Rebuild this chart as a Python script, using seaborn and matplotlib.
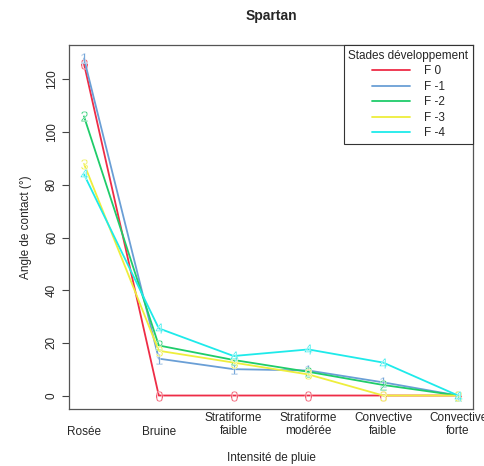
import pandas as pd
import seaborn as sns
import matplotlib
matplotlib.use("Agg")
import matplotlib.pyplot as plt
from matplotlib.transforms import blended_transform_factory

# Intensité de pluie (x = 1..6)
categories = ["Rosée", "Bruine", "Stratiforme\nfaible", "Stratiforme\nmodérée",
              "Convective\nfaible", "Convective\nforte"]
stades = ["F 0", "F -1", "F -2", "F -3", "F -4"]
f0 = [126, 0, 0, 0, 0, 0]
f1 = [128, 14, 10, 9.5, 5, 0]
f2 = [106, 19, 13.5, 9, 4, 0]
f3 = [88, 17, 12.5, 8, 0, 0]
f4 = [84, 25.5, 15, 17.5, 12.5, 0]
couleurs = ["#EE2C46", "#6A9FD6", "#1FCC6A", "#EEEE3C", "#1EEAEA"]


def build_df():
    rows = []
    for nom, vals in zip(stades, [f0, f1, f2, f3, f4]):
        for i, v in enumerate(vals):
            rows.append({"x": i + 1, "angle": v, "stade": nom})
    return pd.DataFrame(rows)


def main():
    sns.set_style("white")
    plt.rcParams["font.family"] = ["Liberation Sans", "DejaVu Sans"]
    plt.rcParams["font.size"] = 8.5
    plt.rcParams["mathtext.fontset"] = "custom"
    plt.rcParams["mathtext.rm"] = "Liberation Sans"

    df = build_df()
    fig = plt.figure(figsize=(4.85, 4.66), dpi=100)
    ax = fig.add_axes([69 / 485, 57 / 466, 404 / 485, 364 / 466])

    palette = dict(zip(stades, couleurs))
    marqueurs = {s: r"$\mathrm{%s}$" % s.split("-")[-1].replace("F ", "") for s in stades}
    sns.lineplot(data=df, x="x", y="angle", hue="stade", style="stade",
                 palette=palette, markers=marqueurs, dashes=False,
                 markersize=7.5, markeredgewidth=0.3, linewidth=1.3, ax=ax)

    ax.set_xlim(0.8, 6.2)
    ax.set_ylim(-5.12, 133.1)
    ax.set_yticks(range(0, 121, 20))
    ax.set_yticklabels([str(t) for t in range(0, 121, 20)], rotation=90, va="center")
    ax.tick_params(axis="y", left=True, length=5, width=0.8, color="#444444", pad=3)
    ax.set_xticks([])
    for sp in ax.spines.values():
        sp.set_color("#555555")
        sp.set_linewidth(0.9)

    trans = blended_transform_factory(ax.transData, ax.transAxes)
    for i, lab in enumerate(categories):
        y = -0.008 if "\n" in lab else -0.046
        ax.text(i + 1, y, lab, transform=trans, ha="center", va="top",
                fontsize=8.5, linespacing=1.15)

    ax.set_xlabel("Intensité de pluie", labelpad=0)
    ax.xaxis.set_label_coords(0.5, -0.118)
    ax.set_ylabel("Angle de contact (°)", labelpad=10)
    ax.set_title("Spartan", fontweight="bold", fontsize=10, pad=18)

    leg = ax.legend(title="Stades développement", loc="upper right",
                    borderaxespad=0, fancybox=False, framealpha=1,
                    edgecolor="#333333", handlelength=3.2, handletextpad=1.2,
                    labelspacing=0.3, fontsize=8.5, title_fontsize=8.5)
    for h in leg.legend_handles:
        h.set_marker("")
    leg.get_frame().set_linewidth(0.8)

    fig.savefig("out.png", dpi=100)


if __name__ == "__main__":
    main()
